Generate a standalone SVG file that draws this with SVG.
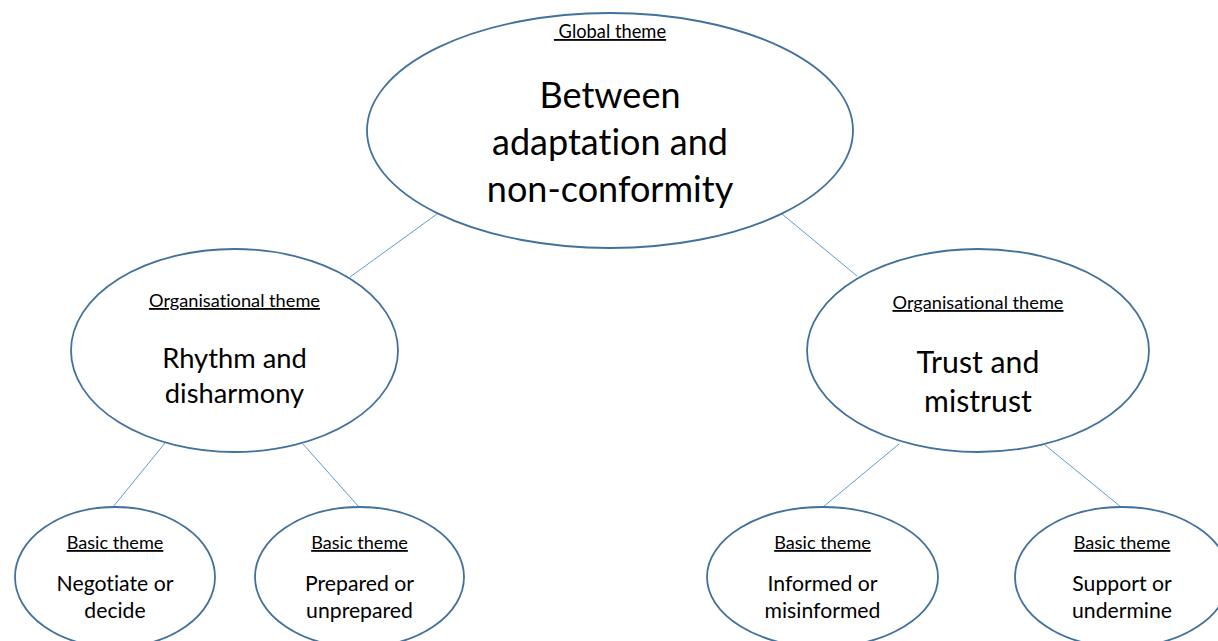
<svg xmlns="http://www.w3.org/2000/svg" width="1218" height="641" viewBox="0 0 1218 641">
<style>
.node{fill:#ffffff;stroke:#41719c;stroke-width:1.8}
.conn{stroke:#5b9bd5;stroke-width:1;fill:none}
text{font-family:Lato,"Open Sans","Liberation Sans",sans-serif;fill:#000000;text-anchor:middle;font-variant-ligatures:none;font-feature-settings:"liga" 0,"clig" 0,"dlig" 0;letter-spacing:0.01px}
.lbl{text-decoration:underline}
.g{font-size:18.3px}
.o{font-size:18.2px}
.b{font-size:18.1px}
.big{font-size:36px}
.mid1{font-size:27.3px}
.mid2{font-size:30.2px}
.sm{font-size:21.2px}
</style>
<rect width="1218" height="641" fill="#ffffff"/>
<g id="connectors">
<line class="conn" x1="437" y1="214" x2="350" y2="277"/>
<line class="conn" x1="782" y1="214" x2="857" y2="276"/>
<line class="conn" x1="165" y1="443" x2="113" y2="507"/>
<line class="conn" x1="303" y1="444" x2="359" y2="507"/>
<line class="conn" x1="899" y1="444" x2="823" y2="507"/>
<line class="conn" x1="1045" y1="445" x2="1121" y2="507"/>
</g>
<g id="global">
<ellipse class="node" cx="610" cy="130.5" rx="243" ry="117.5"/>
<text class="g lbl" x="610" y="38" xml:space="preserve"> Global theme</text>
<text class="big" x="610" y="108">Between</text>
<text class="big" x="610" y="155">adaptation and</text>
<text class="big" x="610" y="202">non-conformity</text>
</g>
<g id="org-rhythm">
<ellipse class="node" cx="234.5" cy="350.5" rx="163.5" ry="101.5"/>
<text class="o lbl" x="234.5" y="307">Organisational theme</text>
<text class="mid1" x="234.5" y="368">Rhythm and</text>
<text class="mid1" x="234.5" y="403">disharmony</text>
</g>
<g id="org-trust">
<ellipse class="node" cx="978" cy="350.5" rx="171" ry="101.5"/>
<text class="o lbl" x="978" y="309">Organisational theme</text>
<text class="mid2" x="978" y="373">Trust and</text>
<text class="mid2" x="978" y="412">mistrust</text>
</g>
<g id="basic-negotiate">
<ellipse class="node" cx="115" cy="577" rx="100" ry="70"/>
<text class="b lbl" x="115" y="549">Basic theme</text>
<text class="sm" x="115" y="591">Negotiate or</text>
<text class="sm" x="115" y="618">decide</text>
</g>
<g id="basic-prepared">
<ellipse class="node" cx="359.5" cy="577" rx="104.5" ry="70"/>
<text class="b lbl" x="359.5" y="549">Basic theme</text>
<text class="sm" x="359.5" y="591">Prepared or</text>
<text class="sm" x="359.5" y="618">unprepared</text>
</g>
<g id="basic-informed">
<ellipse class="node" cx="822.5" cy="577" rx="115.5" ry="70"/>
<text class="b lbl" x="822.5" y="549">Basic theme</text>
<text class="sm" x="822.5" y="591">Informed or</text>
<text class="sm" x="822.5" y="618">misinformed</text>
</g>
<g id="basic-support">
<ellipse class="node" cx="1122" cy="577" rx="107" ry="70"/>
<text class="b lbl" x="1122" y="549">Basic theme</text>
<text class="sm" x="1122" y="591">Support or</text>
<text class="sm" x="1122" y="618">undermine</text>
</g>
</svg>
